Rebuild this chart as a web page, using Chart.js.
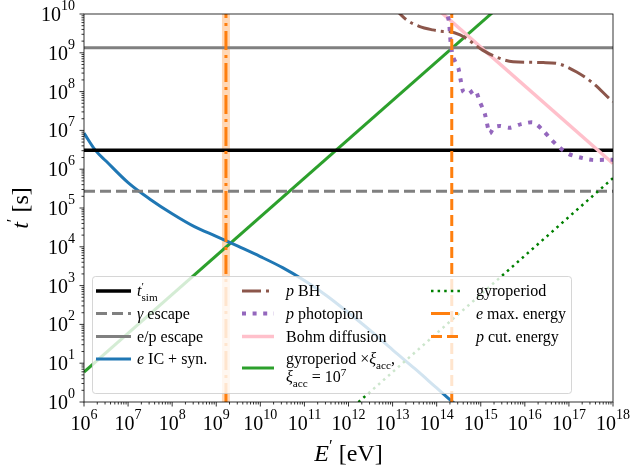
<!DOCTYPE html>
<html>
<head>
<meta charset="utf-8">
<script src="https://cdn.jsdelivr.net/npm/chart.js@4.4.1/dist/chart.umd.min.js"></script>
<style>
    html, body { margin: 0; padding: 0; background: #fff; }
    canvas { display: block; }
</style>
</head>
<body>
<canvas id="timescaleChart" width="631" height="474"></canvas>
<script>
// Axis ranges and decade tick exponents
const energyRange = [1e6, 1e18];
const timeRange = [1, 1e10];
const xTickExps = [6, 7, 8, 9, 10, 11, 12, 13, 14, 15, 16, 17, 18];
const yTickExps = [0, 1, 2, 3, 4, 5, 6, 7, 8, 9, 10];

// Flat timescales over the whole energy range (s)
const fullEnergy = [1e6, 1e18];
const simTime = [3.1e6, 3.1e6];
const gammaEscapeTime = [2.7e5, 2.7e5];
const epEscapeTime = [1.35e9, 1.35e9];

// Electron IC + synchrotron cooling
const eCoolEnergy = [1e6, 1.8e6, 3.2e6, 1e7, 3.2e7, 1e8, 3.2e8, 1e9, 3.2e9, 1e10, 3.2e10, 1e11, 3.2e11, 1e12, 3.2e12, 1e13, 3.2e13, 1e14, 2.3e14, 3.2e14];
const eCoolTime = [8.5e6, 3.1e6, 1.6e6, 4.5e5, 1.66e5, 7.1e4, 3.3e4, 1.86e4, 1.02e4, 5.6e3, 2.9e3, 1.35e3, 550, 200, 68, 22, 7.2, 2.3, 1.0, 0.76];

// Proton Bethe-Heitler losses
const bhEnergy = [1e13, 1.48e13, 2.1e13, 4e13, 8.1e13, 1.4e14, 2e14, 3.4e14, 4.8e14, 1.1e15, 2.3e15, 5.4e15, 2.6e16, 6.2e16, 1.5e17, 3.5e17, 9.1e17, 1e18];
const bhTime = [1.6e10, 1e10, 7e9, 4.8e9, 3.9e9, 3.55e9, 3.5e9, 2.9e9, 2.3e9, 1.17e9, 7.7e8, 5.9e8, 5.6e8, 5.1e8, 3.2e8, 1.66e8, 6e7, 5.5e7];

// Proton photopion losses
const pionEnergy = [1.6e14, 1.9e14, 2.0e14, 2.1e14, 2.35e14, 3.1e14, 3.5e14, 4e14, 5e14, 7.4e14, 9.5e14, 1.23e15, 1.6e15, 2e15, 2.7e15, 4.6e15, 8.3e15, 1.55e16, 2.6e16, 3.7e16, 6e16, 1e17, 1.8e17, 3.4e17, 6.5e17, 1e18];
const pionTime = [1.6e10, 6.3e9, 3.2e9, 1.6e9, 7.9e8, 4e8, 2e8, 1e8, 8.5e7, 1.1e8, 5.5e7, 2.75e7, 8.3e6, 1.2e7, 1.3e7, 1.17e7, 1.45e7, 1.6e7, 1e7, 6.3e6, 3.7e6, 2.45e6, 2e6, 1.74e6, 1.74e6, 1.74e6];

// Bohm diffusion and gyroperiods
const bohmEnergy = [1e14, 1e18];
const bohmTime = [1.4e10, 1.4e6];
const gyroAccTime = [5.9, 5.9e12];
const gyroEnergy = [1e12, 1e18];
const gyroTime = [0.59, 5.9e5];

// Characteristic energies (vertical lines)
const eMaxEnergy = [1.66e9, 1.66e9];
const pCutEnergy = [2.2e14, 2.2e14];
const verticalTime = [1, 1e10];

const SERIF = '"Liberation Serif", "Times New Roman", serif';

document.addEventListener('DOMContentLoaded', function() {
    initializeTimescaleChart();
});

function toPoints(xs, ys) {
    return xs.map((x, i) => ({ x: x, y: ys[i] }));
}

// Draw a row of text parts: i = italic, sub / sup = small shifted
function drawRich(ctx, parts, x, y, size) {
    let cx = x;
    parts.forEach(p => {
        const small = p.sub || p.sup;
        const fs = small ? size * 0.7 : size;
        ctx.font = (p.i ? 'italic ' : '') + fs + 'px ' + SERIF;
        let dy = 0;
        if (p.sub) dy = size * 0.28;
        if (p.sup) dy = -size * 0.42;
        ctx.fillText(p.t, cx, y + dy);
        if (!p.stay) cx += ctx.measureText(p.t).width;
    });
    return cx - x;
}

function richWidth(ctx, parts, size) {
    let w = 0;
    parts.forEach(p => {
        const fs = (p.sub || p.sup) ? size * 0.7 : size;
        ctx.font = (p.i ? 'italic ' : '') + fs + 'px ' + SERIF;
        if (!p.stay) w += ctx.measureText(p.t).width;
    });
    return w;
}

// Legend entries: column, row centre, handle dataset key, text lines
const legendEntries = [
    { col: 0, y: 291, key: 'sim', lines: [[{ t: 't', i: true }, { t: '′', sup: true, stay: true }, { t: 'sim', sub: true }]] },
    { col: 0, y: 313.5, key: 'gesc', lines: [[{ t: 'γ', i: true }, { t: ' escape' }]] },
    { col: 0, y: 336.5, key: 'epesc', lines: [[{ t: 'e/p escape' }]] },
    { col: 0, y: 359, key: 'ecool', lines: [[{ t: 'e', i: true }, { t: ' IC + syn.' }]] },
    { col: 1, y: 291, key: 'bh', lines: [[{ t: 'p', i: true }, { t: ' BH' }]] },
    { col: 1, y: 313.5, key: 'pion', lines: [[{ t: 'p', i: true }, { t: ' photopion' }]] },
    { col: 1, y: 336.5, key: 'bohm', lines: [[{ t: 'Bohm diffusion' }]] },
    { col: 1, y: 368, key: 'gyroacc', lines: [
        [{ t: 'gyroperiod ×' }, { t: 'ξ', i: true }, { t: 'acc', sub: true }, { t: ',' }],
        [{ t: 'ξ', i: true }, { t: 'acc', sub: true }, { t: ' = 10' }, { t: '7', sup: true }]
    ] },
    { col: 2, y: 291, key: 'gyro', lines: [[{ t: 'gyroperiod' }]] },
    { col: 2, y: 313.5, key: 'emax', lines: [[{ t: 'e', i: true }, { t: ' max. energy' }]] },
    { col: 2, y: 336.5, key: 'pcut', lines: [[{ t: 'p', i: true }, { t: ' cut. energy' }]] }
];
const legendColumns = [
    { x0: 96, x1: 131, tx: 137 },
    { x0: 242, x1: 274, tx: 286 },
    { x0: 431, x1: 462, tx: 476 }
];

function roundRect(ctx, x, y, w, h, r) {
    ctx.beginPath();
    ctx.moveTo(x + r, y);
    ctx.arcTo(x + w, y, x + w, y + h, r);
    ctx.arcTo(x + w, y + h, x, y + h, r);
    ctx.arcTo(x, y + h, x, y, r);
    ctx.arcTo(x, y, x + w, y, r);
    ctx.closePath();
}

function drawLegend(chart) {
    const ctx = chart.ctx;
    const size = 16;
    ctx.save();
    roundRect(ctx, 92.5, 276.5, 479, 117, 3);
    ctx.fillStyle = 'rgba(255,255,255,0.8)';
    ctx.fill();
    ctx.strokeStyle = 'rgba(204,204,204,0.8)';
    ctx.lineWidth = 1;
    ctx.stroke();

    legendEntries.forEach(entry => {
        const ds = chart.data.datasets.find(d => d.key === entry.key);
        const col = legendColumns[entry.col];
        ctx.save();
        ctx.strokeStyle = ds.borderColor;
        ctx.lineWidth = ds.borderWidth;
        ctx.setLineDash(ds.borderDash || []);
        ctx.beginPath();
        ctx.moveTo(col.x0, entry.y);
        ctx.lineTo(col.x1, entry.y);
        ctx.stroke();
        ctx.restore();

        ctx.fillStyle = '#000';
        ctx.textBaseline = 'alphabetic';
        const n = entry.lines.length;
        entry.lines.forEach((line, k) => {
            const cy = entry.y + (k - (n - 1) / 2) * 18;
            drawRich(ctx, line, col.tx, cy + size * 0.33, size);
        });
    });
    ctx.restore();
}

// Frame, log ticks and labels in the matplotlib look
function drawAxes(chart) {
    const ctx = chart.ctx;
    const area = chart.chartArea;
    const xs = chart.scales.x;
    const ys = chart.scales.y;
    ctx.save();
    ctx.strokeStyle = '#000';
    ctx.lineWidth = 0.8;
    ctx.strokeRect(area.left, area.top, area.right - area.left, area.bottom - area.top);

    ctx.beginPath();
    for (let e = 6; e <= 18; e++) {
        for (let k = 1; k <= 9; k++) {
            const v = k * Math.pow(10, e);
            if (v > energyRange[1] * 1.0001) continue;
            const px = xs.getPixelForValue(v);
            ctx.moveTo(px, area.bottom);
            ctx.lineTo(px, area.bottom + (k === 1 ? 4.5 : 2.5));
        }
    }
    for (let e = 0; e <= 10; e++) {
        for (let k = 1; k <= 9; k++) {
            const v = k * Math.pow(10, e);
            if (v > timeRange[1] * 1.0001) continue;
            const py = ys.getPixelForValue(v);
            ctx.moveTo(area.left, py);
            ctx.lineTo(area.left - (k === 1 ? 4.5 : 2.5), py);
        }
    }
    ctx.stroke();

    ctx.fillStyle = '#000';
    ctx.textBaseline = 'alphabetic';
    const ts = 20;
    xTickExps.forEach(e => {
        const parts = [{ t: '10' }, { t: String(e), sup: true }];
        const w = richWidth(ctx, parts, ts);
        const px = xs.getPixelForValue(Math.pow(10, e));
        drawTick(ctx, e, px - w / 2, 430, ts);
    });
    yTickExps.forEach(e => {
        const parts = [{ t: '10' }, { t: String(e), sup: true }];
        const w = richWidth(ctx, parts, ts);
        const py = ys.getPixelForValue(Math.pow(10, e));
        drawTick(ctx, e, 75 - w, py + 7, ts);
    });

    // axis titles
    const titleSize = 24;
    const xt = [{ t: 'E', i: true }, { t: '′', sup: true }, { t: ' [eV]' }];
    const xw = richWidth(ctx, xt, titleSize);
    drawRich(ctx, xt, (area.left + area.right) / 2 - xw / 2, 461, titleSize);

    const yt = [{ t: 't', i: true }, { t: '′', sup: true }, { t: ' [s]' }];
    const yw = richWidth(ctx, yt, titleSize);
    ctx.translate(28, (area.top + area.bottom) / 2);
    ctx.rotate(-Math.PI / 2);
    drawRich(ctx, yt, -yw / 2, 0, titleSize);
    ctx.restore();
}

function drawTick(ctx, e, x, y, size) {
    ctx.font = size + 'px ' + SERIF;
    ctx.fillText('10', x, y);
    const w = ctx.measureText('10').width;
    ctx.font = (size * 0.7) + 'px ' + SERIF;
    ctx.fillText(String(e), x + w, y - 11);
}

// Initialize timescale chart
function initializeTimescaleChart() {
    const ctx = document.getElementById('timescaleChart').getContext('2d');
    const orange = '#ff7f0e';

    const datasets = [
        { key: 'emaxband', data: toPoints(eMaxEnergy, verticalTime), borderColor: 'rgba(255,127,14,0.3)', borderWidth: 8 },
        { key: 'gyroacc', data: toPoints(fullEnergy, gyroAccTime), borderColor: '#2ca02c', borderWidth: 3 },
        { key: 'ecool', data: toPoints(eCoolEnergy, eCoolTime), borderColor: '#1f77b4', borderWidth: 3, cubicInterpolationMode: 'monotone' },
        { key: 'sim', data: toPoints(fullEnergy, simTime), borderColor: '#000000', borderWidth: 3.5 },
        { key: 'gesc', data: toPoints(fullEnergy, gammaEscapeTime), borderColor: '#808080', borderWidth: 3, borderDash: [11, 5] },
        { key: 'epesc', data: toPoints(fullEnergy, epEscapeTime), borderColor: '#808080', borderWidth: 3 },
        { key: 'bohm', data: toPoints(bohmEnergy, bohmTime), borderColor: '#ffc0cb', borderWidth: 3.5 },
        { key: 'bh', data: toPoints(bhEnergy, bhTime), borderColor: '#8c564b', borderWidth: 3, borderDash: [19, 5, 3, 5], cubicInterpolationMode: 'monotone' },
        { key: 'pion', data: toPoints(pionEnergy, pionTime), borderColor: '#9467bd', borderWidth: 4, borderDash: [4, 6.6], tension: 0.25 },
        { key: 'gyro', data: toPoints(gyroEnergy, gyroTime), borderColor: '#008000', borderWidth: 2.5, borderDash: [2.5, 4.1] },
        { key: 'emax', data: toPoints(eMaxEnergy, verticalTime), borderColor: orange, borderWidth: 3, borderDash: [19, 5, 3, 5] },
        { key: 'pcut', data: toPoints(pCutEnergy, verticalTime), borderColor: orange, borderWidth: 3, borderDash: [11, 5] }
    ];
    // later entries drawn on top, like matplotlib
    datasets.forEach((ds, i) => {
        ds.order = datasets.length - i;
        ds.pointRadius = 0;
        ds.fill = false;
        if (ds.tension === undefined) ds.tension = 0;
        ds.clip = 0;
    });

    window.timescaleChartInstance = new Chart(ctx, {
        type: 'line',
        data: { datasets: datasets },
        options: {
            responsive: false,
            animation: false,
            layout: { padding: { left: 84, right: 18, top: 14, bottom: 72 } },
            scales: {
                x: { type: 'logarithmic', display: false, min: energyRange[0], max: energyRange[1] },
                y: { type: 'logarithmic', display: false, min: timeRange[0], max: timeRange[1] }
            },
            plugins: {
                legend: { display: false },
                tooltip: { enabled: false }
            }
        },
        plugins: [{
            id: 'mplLook',
            afterDatasetsDraw: function(chart) { drawLegend(chart); },
            afterDraw: function(chart) { drawAxes(chart); }
        }]
    });
}
</script>
</body>
</html>
